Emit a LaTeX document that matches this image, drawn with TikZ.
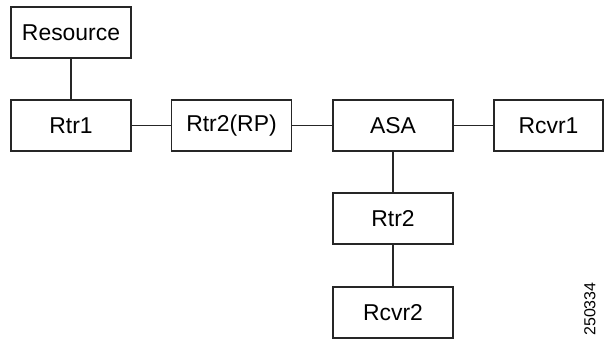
\documentclass[tikz,border=0pt]{standalone}
\usepackage{fontspec}
\setmainfont{Liberation Sans}
\begin{document}
\begin{tikzpicture}[x=1bp,y=-1bp,
        box/.style={draw=black!85, line width=1.1bp, minimum width=120bp,
            minimum height=51bp, inner sep=0pt, font=\fontsize{23}{26}\selectfont},
        link/.style={draw=black!85, line width=1.1bp}]
        \useasboundingbox (0,0) rectangle (605,339);
        \node[box] (res) at (71,32.5) {Resource};
        \node[box] (rtr1) at (71,125.5) {Rtr1};
        \node[box] (rtrrp) at (231.5,125.5) {Rtr2(RP)};
        \node[box] (asa) at (393,125.5) {ASA};
        \node[box, minimum width=109bp] (rcvr1) at (548.5,125.5) {Rcvr1};
        \node[box] (rtr2) at (393,218.5) {Rtr2};
        \node[box] (rcvr2) at (393,312.5) {Rcvr2};
        \node[rotate=90, font=\fontsize{16}{18}\selectfont] (fig) at (590,309) {250334};
        \draw[link] (res) -- (rtr1);
        \draw[link] (rtr1) -- (rtrrp);
        \draw[link] (rtrrp) -- (asa);
        \draw[link] (asa) -- (rcvr1);
        \draw[link] (asa) -- (rtr2);
        \draw[link] (rtr2) -- (rcvr2);
    \end{tikzpicture}
\end{document}
